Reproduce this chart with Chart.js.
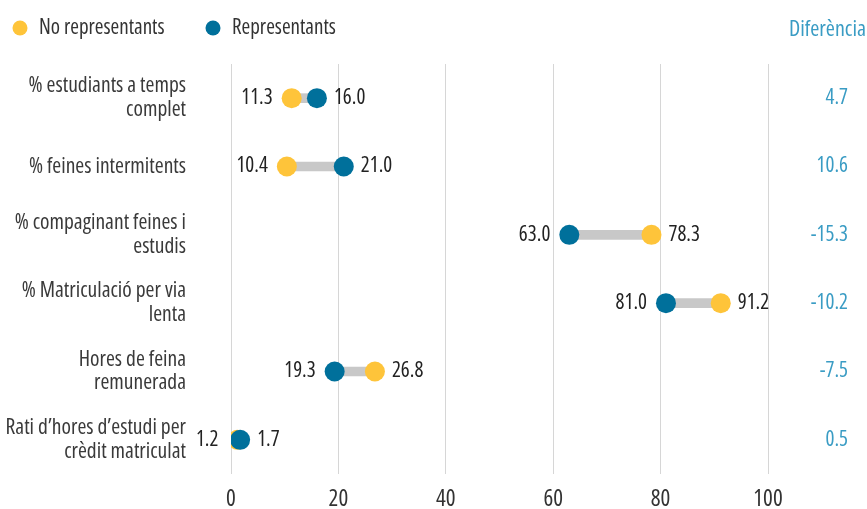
<!DOCTYPE html>
<html>
<head>
<meta charset="utf-8">
<script src="https://cdn.jsdelivr.net/npm/chart.js@4.4.1/dist/chart.umd.min.js"></script>
<style>
  html, body { margin: 0; padding: 0; background: #ffffff; }
  canvas { display: block; }
</style>
</head>
<body>
<canvas id="graficaDiferencia" width="867" height="509"></canvas>
<script>
// dades del gràfic
var categories = [
    ['% estudiants a temps', 'complet'],
    '% feines intermitents',
    ['% compaginant feines i', 'estudis'],
    ['% Matriculació per via', 'lenta'],
    ['Hores de feina', 'remunerada'],
    ['Rati d\u2019hores d\u2019estudi per', 'crèdit matriculat']
];
var noRepresentants = [11.3, 10.4, 78.3, 91.2, 26.8, 1.2];
var representants = [16.0, 21.0, 63.0, 81.0, 19.3, 1.7];
var diferencia = [4.7, 10.6, -15.3, -10.2, -7.5, 0.5];
var ticksX = [0, 20, 40, 60, 80, 100];

// Open Sans en versió estreta (font-stretch via el camp weight)
var FONT = "'Open Sans', sans-serif";
var ESTRET = 'condensed';
var GROC = '#fec43a';
var BLAU = '#00709b';
var BLAU_CLAR = '#3a9cc4';

// barra grisa que uneix els dos punts
var rangs = noRepresentants.map(function (v, i) {
    return [Math.min(v, representants[i]), Math.max(v, representants[i])];
});

// llegenda dibuixada a mà (posicions com a l'original)
var pluginLlegenda = {
    id: 'llegendaManual',
    afterDraw: function (chart) {
        var ctx = chart.ctx;
        var posicions = [20, 213];
        ctx.save();
        ctx.font = ESTRET + ' 21px ' + FONT;
        ctx.textBaseline = 'middle';
        ctx.textAlign = 'left';
        [1, 2].forEach(function (d, k) {
            var ds = chart.data.datasets[d];
            ctx.fillStyle = ds.pointBackgroundColor;
            ctx.beginPath();
            ctx.arc(posicions[k], 28, 7.5, 0, Math.PI * 2);
            ctx.fill();
            ctx.fillStyle = '#333333';
            ctx.fillText(ds.label, posicions[k] + 19, 28);
        });
        ctx.restore();
    }
};

// etiquetes de valor i columna de diferència
var pluginEtiquetes = {
    id: 'etiquetes',
    afterDatasetsDraw: function (chart) {
        var ctx = chart.ctx;
        var metaGroc = chart.getDatasetMeta(1);
        var metaBlau = chart.getDatasetMeta(2);
        ctx.save();
        ctx.font = ESTRET + ' 21px ' + FONT;
        ctx.textBaseline = 'middle';
        ctx.fillStyle = '#222222';
        for (var i = 0; i < categories.length; i++) {
            var pg = metaGroc.data[i];
            var pb = metaBlau.data[i];
            var esq = pg.x <= pb.x ? { p: pg, v: noRepresentants[i] } : { p: pb, v: representants[i] };
            var dre = pg.x <= pb.x ? { p: pb, v: representants[i] } : { p: pg, v: noRepresentants[i] };
            ctx.textAlign = 'right';
            ctx.fillText(esq.v.toFixed(1), esq.p.x - 19, esq.p.y);
            ctx.textAlign = 'left';
            ctx.fillText(dre.v.toFixed(1), dre.p.x + 17, dre.p.y);
        }
        // columna Diferència
        var xDif = chart.chartArea.right + 80;
        ctx.fillStyle = BLAU_CLAR;
        ctx.textAlign = 'right';
        for (var j = 0; j < diferencia.length; j++) {
            var y = chart.scales.y.getPixelForValue(j);
            ctx.fillText(diferencia[j].toFixed(1), xDif, y);
        }
        ctx.font = ESTRET + ' 22px ' + FONT;
        ctx.fillText('Diferència', chart.width - 1, 30);
        ctx.restore();
    }
};

var ctx = document.getElementById('graficaDiferencia').getContext('2d');
var grafica = new Chart(ctx, {
    type: 'bar',
    data: {
        labels: categories,
        datasets: [{
            type: 'bar',
            label: 'rang',
            data: rangs,
            backgroundColor: '#c8c8c8',
            barThickness: 9,
            order: 3
        }, {
            type: 'line',
            label: 'No representants',
            data: noRepresentants,
            showLine: false,
            pointRadius: 10,
            pointHoverRadius: 10,
            pointBorderWidth: 0,
            pointBackgroundColor: GROC,
            backgroundColor: GROC,
            borderColor: GROC,
            order: 2
        }, {
            type: 'line',
            label: 'Representants',
            data: representants,
            showLine: false,
            pointRadius: 10,
            pointHoverRadius: 10,
            pointBorderWidth: 0,
            pointBackgroundColor: BLAU,
            backgroundColor: BLAU,
            borderColor: BLAU,
            order: 1
        }]
    },
    options: {
        responsive: false,
        animation: false,
        indexAxis: 'y',
        layout: {
            padding: { left: 0, right: 99, top: 64, bottom: 0 }
        },
        plugins: {
            tooltip: { enabled: false },
            legend: { display: false }
        },
        scales: {
            x: {
                type: 'linear',
                min: 0,
                max: 100,
                afterBuildTicks: function (axis) {
                    axis.ticks = ticksX.map(function (v) { return { value: v }; });
                },
                afterFit: function (axis) {
                    axis.height = 35;
                    axis.paddingBottom = 0;
                },
                grid: { color: '#d6d6d6', drawTicks: false, lineWidth: 1 },
                border: { display: false },
                ticks: {
                    padding: 14,
                    color: '#333333',
                    font: { family: FONT, size: 23, weight: ESTRET, lineHeight: 1.0 }
                }
            },
            y: {
                type: 'category',
                offset: true,
                grid: { display: false },
                border: { display: false },
                afterFit: function (axis) {
                    axis.width = 231;
                    axis.paddingTop = 0;
                    axis.paddingBottom = 0;
                },
                ticks: {
                    padding: 37,
                    color: '#3a3a3a',
                    font: { family: FONT, size: 21.5, weight: ESTRET, lineHeight: 1.1 }
                }
            }
        }
    },
    plugins: [pluginLlegenda, pluginEtiquetes]
});
</script>
</body>
</html>
